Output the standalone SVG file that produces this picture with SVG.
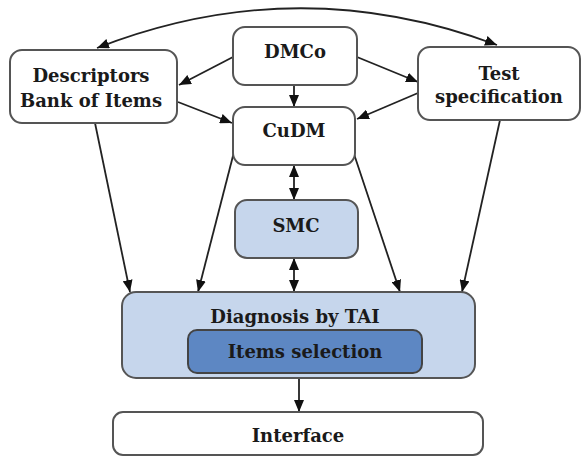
<svg xmlns="http://www.w3.org/2000/svg" width="582" height="457" viewBox="0 0 582 457">
<style>
.box{fill:#ffffff;stroke:#555;stroke-width:2}
.lb{fill:#c6d6ec;stroke:#555;stroke-width:2}
.db{fill:#5d87c3;stroke:#444;stroke-width:2}
.t{font-family:"DejaVu Serif","Liberation Serif",serif;font-weight:bold;font-size:18px;fill:#1a1a1a;text-anchor:middle}
.c{fill:none;stroke:#222;stroke-width:1.8}
</style>
<defs>
<marker id="ah" viewBox="0 0 12 10" refX="12" refY="5" markerWidth="12" markerHeight="10" markerUnits="userSpaceOnUse" orient="auto-start-reverse">
<path d="M0,0 L12,5 L0,10 z" fill="#111"/>
</marker>
</defs>
<g id="connectors">
<path class="c" d="M97,48 Q297,-30 497,45" marker-start="url(#ah)" marker-end="url(#ah)"/>
<line class="c" x1="233" y1="57" x2="179" y2="85" marker-end="url(#ah)"/>
<line class="c" x1="357" y1="57" x2="418" y2="82" marker-end="url(#ah)"/>
<line class="c" x1="294" y1="85" x2="294" y2="107" marker-end="url(#ah)"/>
<line class="c" x1="178" y1="102" x2="232" y2="123" marker-end="url(#ah)"/>
<line class="c" x1="418" y1="93" x2="357" y2="119" marker-end="url(#ah)"/>
<line class="c" x1="95" y1="123" x2="130" y2="292" marker-end="url(#ah)"/>
<line class="c" x1="234" y1="152" x2="198" y2="292" marker-end="url(#ah)"/>
<line class="c" x1="354" y1="154" x2="400" y2="292" marker-end="url(#ah)"/>
<line class="c" x1="500" y1="120" x2="462" y2="292" marker-end="url(#ah)"/>
<line class="c" x1="294" y1="165" x2="294" y2="200" marker-start="url(#ah)" marker-end="url(#ah)"/>
<line class="c" x1="294" y1="258" x2="294" y2="292" marker-start="url(#ah)" marker-end="url(#ah)"/>
<line class="c" x1="299" y1="378" x2="299" y2="412" marker-end="url(#ah)"/>
</g>
<g id="descriptors">
<rect class="box" x="10" y="50" width="167" height="73" rx="12"/>
<text class="t" x="91" y="82">Descriptors</text>
<text class="t" x="91" y="107">Bank of Items</text>
</g>
<g id="dmco">
<rect class="box" x="233" y="27" width="124" height="58" rx="12"/>
<text class="t" x="295" y="58">DMCo</text>
</g>
<g id="test">
<rect class="box" x="418" y="47" width="162" height="73" rx="12"/>
<text class="t" x="499" y="80">Test</text>
<text class="t" x="499" y="103">specification</text>
</g>
<g id="cudm">
<rect class="box" x="233" y="107" width="122" height="58" rx="12"/>
<text class="t" x="294" y="137">CuDM</text>
</g>
<g id="smc">
<rect class="lb" x="235" y="200" width="123" height="58" rx="12"/>
<text class="t" x="296" y="232">SMC</text>
</g>
<g id="diagnosis">
<rect class="lb" x="122" y="292" width="353" height="86" rx="14"/>
<text class="t" x="295" y="323">Diagnosis by TAI</text>
</g>
<g id="items">
<rect class="db" x="188" y="330" width="234" height="43" rx="9"/>
<text class="t" x="305" y="358">Items selection</text>
</g>
<g id="interface">
<rect class="box" x="113" y="412" width="370" height="43" rx="10"/>
<text class="t" x="298" y="442">Interface</text>
</g>
</svg>
